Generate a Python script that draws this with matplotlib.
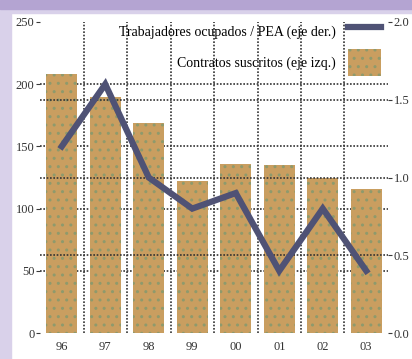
import matplotlib
matplotlib.use("Agg")
import matplotlib.pyplot as plt
import numpy as np

# datos
anios = ["96", "97", "98", "99", "00", "01", "02", "03"]
contratos = [208, 190, 169, 122, 136, 135, 125, 116]
ocupados_pea = [1.2, 1.6, 1.0, 0.8, 0.9, 0.4, 0.8, 0.4]

plt.rcParams["font.family"] = ["Liberation Serif", "DejaVu Serif"]
plt.rcParams["hatch.linewidth"] = 1.0

fig = plt.figure(figsize=(4.12, 3.59), dpi=100)
fig.patch.set_facecolor("white")

# franjas lilas del marco
fig.add_artist(plt.Rectangle((0, 0), 11 / 412, 1, transform=fig.transFigure,
                             color="#d9d1ea", zorder=0))
fig.add_artist(plt.Rectangle((0, 1 - 13 / 359), 1, 13 / 359, transform=fig.transFigure,
                             color="#d9d1ea", zorder=0))
fig.add_artist(plt.Rectangle((0, 1 - 9 / 359), 1, 9 / 359, transform=fig.transFigure,
                             color="#b4a4d2", zorder=0))

ax = fig.add_axes([40 / 412, 1 - 333 / 359, 348 / 412, 311 / 359])
ax.patch.set_alpha(0)
x = np.arange(len(anios))

ax.bar(x, contratos, width=0.72, color="#c99e60", edgecolor="#8e9a6c",
       linewidth=0, hatch="..", label="Contratos suscritos (eje izq.)", zorder=2)
ax.set_ylim(0, 250)
ax.set_xlim(-0.5, len(anios) - 0.5)
ax.set_yticks([0, 50, 100, 150, 200, 250])
ax.set_xticks(x)
ax.set_xticklabels(anios)

ax2 = ax.twinx()
ax2.plot(x, ocupados_pea, color="#4f5275", linewidth=4.5, solid_joinstyle="miter",
         label="Trabajadores ocupados / PEA (eje der.)", zorder=3)
ax2.set_ylim(0, 2.0)
ax2.set_yticks([0.0, 0.5, 1.0, 1.5, 2.0])
ax2.set_yticklabels(["0.0", "0.5", "1.0", "1.5", "2.0"])

grid_kw = dict(color="#333333", linewidth=1.2, linestyle=(0, (1, 1)), zorder=1)
for v in [50, 100, 150, 200]:
    ax.axhline(v, **grid_kw)
for v in [0.5, 1.0, 1.5]:
    ax2.axhline(v, **grid_kw)
for v in x[:-1] + 0.5:
    ax.axvline(v, **grid_kw)

for a in (ax, ax2):
    for s in a.spines.values():
        s.set_visible(False)
    a.tick_params(labelsize=9, length=3, color="#3a3a3a", labelcolor="#333333")
ax.tick_params(axis="x", length=0, pad=6)
ax.tick_params(axis="y", pad=1)
ax2.tick_params(axis="y", pad=1)

h1, l1 = ax2.get_legend_handles_labels()
h2, l2 = ax.get_legend_handles_labels()
ax2.legend(h1 + h2, l1 + l2, loc="upper right", bbox_to_anchor=(1.005, 1.038),
           frameon=False, markerfirst=False, fontsize=10, handlelength=2.4,
           handleheight=2.6, labelspacing=0.25, handletextpad=0.9, borderaxespad=0.2)

fig.savefig("out.png", dpi=100)
